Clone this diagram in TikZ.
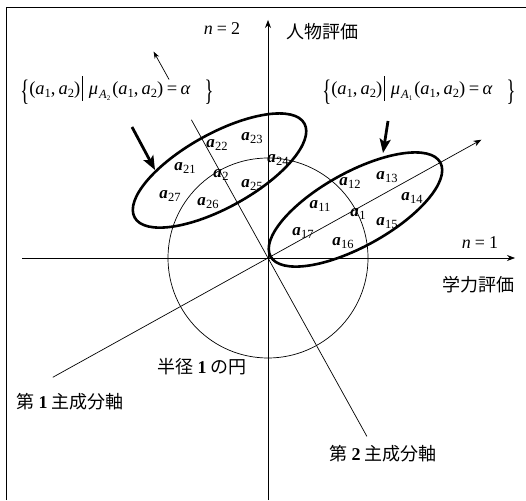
\documentclass[tikz,border=0pt]{standalone}
\usepackage{fontspec}
\setmainfont{Liberation Serif}
\newfontfamily\cjk{Noto Sans CJK JP}
\usetikzlibrary{arrows.meta,calc}
\tikzset{
  thin line/.style={line width=0.7pt},
  axisarrow/.style={-{Stealth[length=8pt,width=6pt]}},
  ellbox/.style={line width=2.6pt},
  bigarrow/.style={line width=2.8pt,-{Stealth[length=14pt,width=11pt,inset=3pt]}},
  alab/.style={inner sep=0pt,font=\fontsize{17}{17}\selectfont},
  jlab/.style={inner sep=0pt,font=\fontsize{18}{18}\selectfont\cjk},
  mlab/.style={inner sep=0pt,font=\fontsize{18}{18}\selectfont},
  setlab/.style={inner sep=0pt,font=\fontsize{18.5}{21}\selectfont}
}
\newcommand{\jnum}[1]{\hspace{4pt}{\fontspec{Liberation Serif}\bfseries #1}\hspace{4pt}}
\newcommand{\va}[1]{{\bfseries\itshape a}\kern0.3pt\raisebox{-0.45ex}{\fontsize{12.5}{12.5}\selectfont #1}}
\newcommand{\ia}[1]{\textit{a}\raisebox{-0.4ex}{\fontsize{12.5}{12.5}\selectfont #1}}
\newcommand{\musub}[1]{\textit{μ}\kern1pt\raisebox{-0.5ex}{\fontsize{12.5}{12.5}\selectfont\textit{A}\raisebox{-0.35ex}{\fontsize{7}{7}\selectfont #1}}}
\newcommand{\bigbr}[1]{\raisebox{-0.32em}{\scalebox{1}[1.6]{#1}}}
\newcommand{\setlabel}[1]{\bigbr{\{}(\ia{1},\kern3pt\ia{2})\kern2pt\raisebox{-0.32em}{\rule{0.6pt}{1.35em}}\kern6pt\musub{#1}\kern2pt(\ia{1},\kern3pt\ia{2})\kern3.5pt=\kern3.5pt\textit{α}\kern14pt\bigbr{\}}}
\begin{document}
\begin{tikzpicture}[x=1pt,y=1pt,thin line]
\useasboundingbox (0,0) rectangle (526,500);
% frame
\coordinate (fbl) at (6,0);
\coordinate (ftl) at (6,492);
\coordinate (ftr) at (526,492);
\draw[line width=1pt] (fbl) -- (ftl) -- (ftr);
% origin and axes
\coordinate (O) at (268,242);
\coordinate (yb) at (268,0);
\coordinate (yt) at (268,480);
\coordinate (xl) at (22,242);
\coordinate (xr) at (515,242);
\draw[axisarrow] (yb) -- (yt);
\draw[axisarrow] (xl) -- (xr);
% unit circle
\draw (O) circle (100);
% principal axes
\coordinate (a1) at ($(O)+(29:100)$);
\coordinate (a2) at ($(O)+(119:100)$);
\coordinate (p1s) at ($(O)+(209:246)$);
\coordinate (p1e) at ($(O)+(29:244)$);
\coordinate (p2s) at ($(O)+(-61:204)$);
\coordinate (p2e) at ($(O)+(119:158)$);
\coordinate (p2as) at ($(O)+(119:204)$);
\coordinate (p2ae) at ($(O)+(119:236)$);
\draw[axisarrow] (p1s) -- (p1e);
\draw (p2s) -- (p2e);
\draw[-{Stealth[length=7pt,width=5pt]}] (p2as) -- (p2ae);
% ellipses
\draw[ellbox,rotate around={29:(a1)}] (a1) ellipse [x radius=97,y radius=37];
\draw[ellbox,rotate around={29:(a2)}] (a2) ellipse [x radius=97,y radius=37];
% thick arrows
\coordinate (b1s) at (132,373);
\coordinate (b1e) at (155,330);
\coordinate (b2s) at (388,379);
\coordinate (b2e) at (383,347);
\draw[bigarrow] (b1s) -- (b1e);
\draw[bigarrow] (b2s) -- (b2e);
% a labels
\node[alab] (l22) at (217,355) {\va{22}};
\node[alab] (l23) at (252,362) {\va{23}};
\node[alab] (l21) at (185,332) {\va{21}};
\node[alab] (l2)  at (221,325) {\va{2}};
\node[alab] (l24) at (278,340) {\va{24}};
\node[alab] (l25) at (252,315) {\va{25}};
\node[alab] (l27) at (170,304) {\va{27}};
\node[alab] (l26) at (208,297) {\va{26}};
\node[alab] (l12) at (350,317) {\va{12}};
\node[alab] (l13) at (387,323) {\va{13}};
\node[alab] (l11) at (320,294) {\va{11}};
\node[alab] (l1)  at (358,286) {\va{1}};
\node[alab] (l14) at (412,302) {\va{14}};
\node[alab] (l15) at (387,277) {\va{15}};
\node[alab] (l17) at (303,267) {\va{17}};
\node[alab] (l16) at (343,257) {\va{16}};
% axis labels
\node[mlab] (n2) at (222,471) {\textit{n}\kern4pt=\kern4pt2};
\node[mlab] (n1) at (480,257) {\textit{n}\kern4pt=\kern4pt1};
\node[jlab] (jinbutsu) at (322,468) {人物評価};
\node[jlab] (gakuryoku) at (478,215) {学力評価};
\node[jlab] (pc1) at (70,98) {第\jnum{1}主成分軸};
\node[jlab] (circ) at (202,133) {半径\jnum{1}の円};
\node[jlab] (pc2) at (383,46) {第\jnum{2}主成分軸};
% set labels
\node[setlab] (set2) at (117,410) {\setlabel{2}};
\node[setlab] (set1) at (419,410) {\setlabel{1}};
\end{tikzpicture}
\end{document}
